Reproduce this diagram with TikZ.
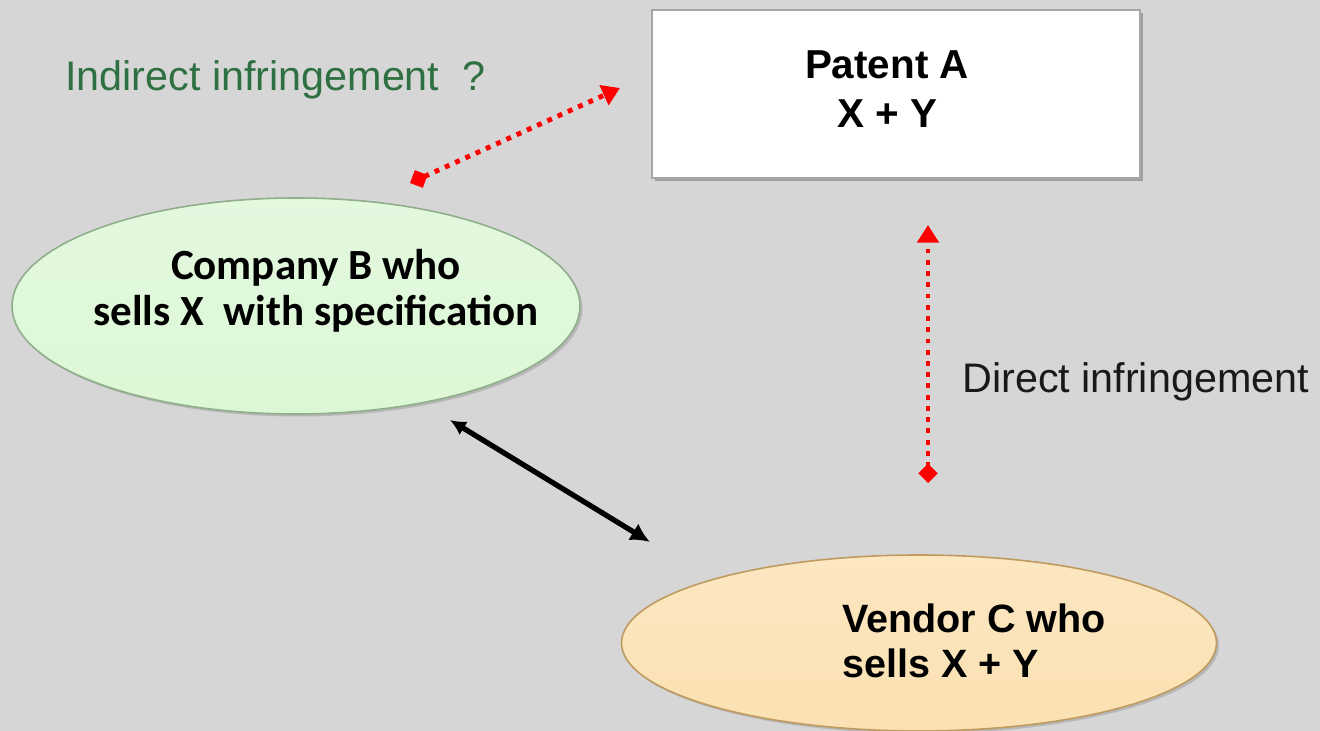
\documentclass[tikz,border=0pt]{standalone}
\usepackage{fontspec}
\setmainfont{Liberation Sans}
\newfontfamily\calibfont{Carlito}
\usetikzlibrary{positioning,shapes.geometric,arrows.meta,shadows}

\definecolor{bggray}{HTML}{D6D6D6}
\definecolor{labgreen}{HTML}{2E7041}
\definecolor{greenfill}{HTML}{DCF7D6}
\definecolor{greenedge}{HTML}{8FAE8A}
\definecolor{tanfill}{HTML}{FBE1B2}
\definecolor{tanedge}{HTML}{BF9A5E}

\tikzset{
  patentbox/.style={draw=gray!70, line width=0.8pt, fill=white, minimum width=9.76cm,
    minimum height=3.36cm, drop shadow={shadow xshift=0.06cm, shadow yshift=-0.06cm, opacity=0.6}},
  partyB/.style={ellipse, draw=greenedge, line width=0.9pt, top color=white!20!greenfill,
    bottom color=greenfill, minimum width=11.36cm, minimum height=4.32cm,
    drop shadow={shadow xshift=0.05cm, shadow yshift=-0.05cm, opacity=0.35}},
  partyC/.style={ellipse, draw=tanedge, line width=0.9pt, top color=white!20!tanfill,
    bottom color=tanfill, minimum width=11.9cm, minimum height=3.52cm,
    drop shadow={shadow xshift=0.05cm, shadow yshift=-0.05cm, opacity=0.35}},
  bigtext/.style={font=\fontsize{23.5}{28}\selectfont},
  boldtext/.style={font=\fontsize{22.5}{25.5}\selectfont\bfseries, align=left},
  infr/.style={red, line width=2.8pt, dash pattern=on 2.8pt off 3.6pt,
    {Diamond[length=11pt,width=11pt,sep=0pt]}-{Triangle[length=10pt,width=12pt]}},
  sells/.style={black, line width=3pt, {Latex[length=9pt,width=9pt]}-{Latex[length=11pt,width=11pt]}}
}

\begin{document}
\begin{tikzpicture}
  % background
  \fill[bggray] (0,0) rectangle (26.4,-14.62);
  \useasboundingbox (0,0) rectangle (26.4,-14.62);

  % parties
  \node[patentbox] (patent) at (17.92,-1.88) {};
  \node[font=\fontsize{23}{28}\selectfont\bfseries, align=center]
    (patentTxt) at ([xshift=-0.18cm, yshift=0.1cm]patent.center) {Patent A\\X + Y};

  \node[partyB] (compB) at (5.92,-6.12) {};
  \node[font=\fontsize{24.5}{26}\selectfont\calibfont\bfseries, align=center]
    (compBTxt) at ([xshift=0.4cm, yshift=0.3cm]compB.center) {Company B who\\ sells X \ with specification};

  \node[partyC] (vendC) at (18.38,-12.86) {};
  \node[boldtext] (vendCTxt) at ([xshift=1.1cm, yshift=0.04cm]vendC.center) {Vendor C who\\sells X + Y};

  % labels
  \node[bigtext, labgreen, anchor=west, inner sep=0pt] (indLab) at (1.3,-1.6) {Indirect infringement \ ?};
  \node[bigtext, black!90, anchor=west, inner sep=0pt] (dirLab) at (19.24,-7.64) {Direct infringement};

  % connector ends
  \coordinate (indS) at (8.2,-3.66);
  \coordinate (indE) at (12.4,-1.76);
  \coordinate (dirS) at (18.56,-9.66);
  \coordinate (dirE) at (18.56,-4.5);
  \coordinate (selS) at (9.0,-8.4);
  \coordinate (selE) at (13.0,-10.84);

  % connectors
  \draw[infr] (indS) -- (indE);
  \draw[infr] (dirS) -- (dirE);
  \draw[sells] (selS) -- (selE);
\end{tikzpicture}
\end{document}
